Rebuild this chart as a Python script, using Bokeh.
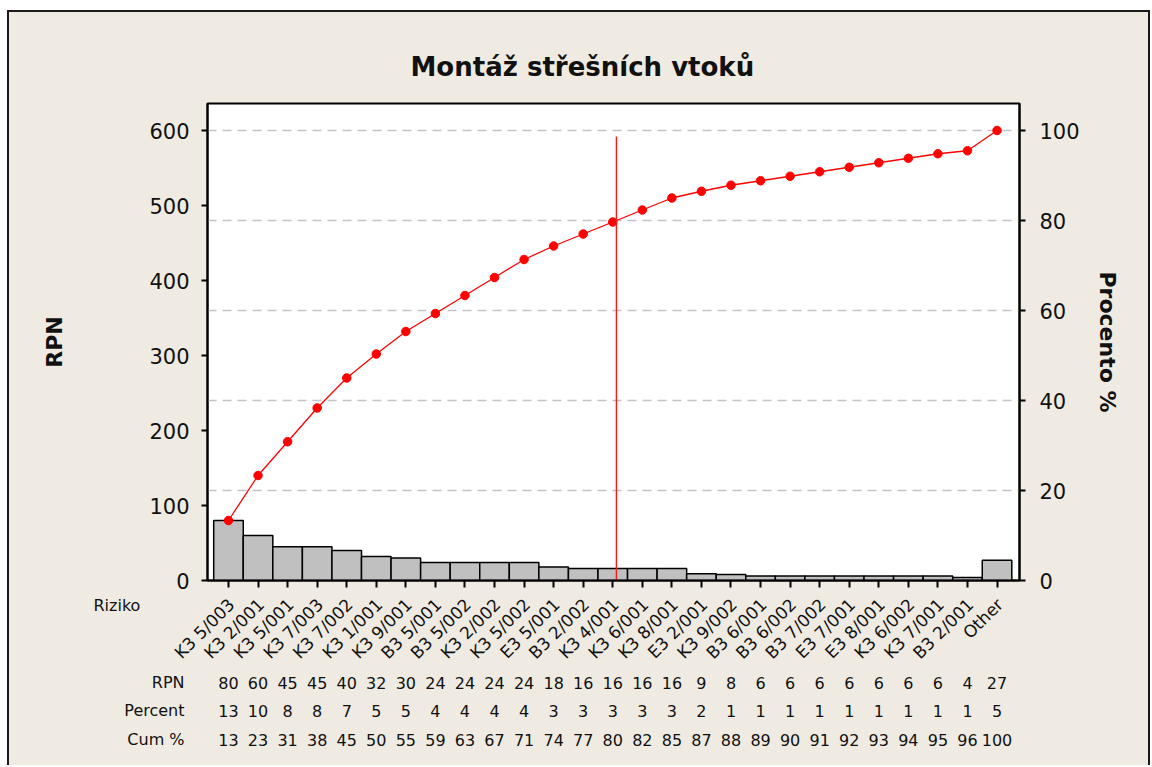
import numpy as np
from math import pi
from bokeh.plotting import figure
from bokeh.layouts import column
from bokeh.models import Range1d, LinearAxis, FixedTicker, Grid
from bokeh.core.properties import value
from bokeh.embed import file_html
from bokeh.resources import INLINE

# ---------------- data ----------------
categories = ["K3 5/003", "K3 2/001", "K3 5/001", "K3 7/003", "K3 7/002", "K3 1/001",
              "K3 9/001", "B3 5/001", "B3 5/002", "K3 2/002", "K3 5/002", "E3 5/001",
              "B3 2/002", "K3 4/001", "K3 6/001", "K3 8/001", "E3 2/001", "K3 9/002",
              "B3 6/001", "B3 6/002", "B3 7/002", "E3 7/001", "E3 8/001", "K3 6/002",
              "K3 7/001", "B3 2/001", "Other"]
rpn = [80, 60, 45, 45, 40, 32, 30, 24, 24, 24, 24, 18, 16, 16, 16, 16, 9, 8,
       6, 6, 6, 6, 6, 6, 6, 4, 27]
percent = [13, 10, 8, 8, 7, 5, 5, 4, 4, 4, 4, 3, 3, 3, 3, 3, 2, 1, 1, 1, 1, 1, 1, 1, 1, 1, 5]
cum_percent = [13, 23, 31, 38, 45, 50, 55, 59, 63, 67, 71, 74, 77, 80, 82, 85, 87, 88,
               89, 90, 91, 92, 93, 94, 95, 96, 100]
left_ticks = [0, 100, 200, 300, 400, 500, 600]
right_ticks = [0, 20, 40, 60, 80, 100]
row_names = ["RPN", "Percent", "Cum %"]
cutoff_pct = 80
cutoff_line_top = 592

title_text = "Montáž střešních vtoků"
x_title = "Riziko"
y_title = "RPN"
y2_title = "Procento %"

# ---------------- styling / layout ----------------
FONT = "DejaVu Sans"
BEIGE = "#EFEBE2"
TXT = "#111111"
W = 1139
FL, FR, FT, FB = 198, 1010, 91, 568     # frame edges inside the top figure
H1 = 580
H2 = 173
X0, X1 = -0.71, 26.76
Y_MAX = 636

idx = np.arange(len(categories))
cum = np.cumsum(rpn)
total = float(cum[-1])
x_cut = float(np.interp(cutoff_pct / 100.0 * total, cum, idx))

# ---------------- main chart ----------------
p = figure(width=W, height=H1,
           x_range=Range1d(X0, X1), y_range=Range1d(0, Y_MAX),
           output_backend="svg", toolbar_location=None,
           min_border_left=FL, min_border_right=W - FR,
           min_border_top=FT, min_border_bottom=H1 - FB,
           background_fill_color="white", border_fill_color=BEIGE)
p.outline_line_color = "black"
p.outline_line_width = 2
p.xgrid.visible = False
p.ygrid.visible = False

p.title.text = title_text
p.title.align = "left"
p.title.offset = 203
p.title.standoff = 44
p.title.text_font = FONT
p.title.text_font_style = "bold"
p.title.text_font_size = "26px"
p.title.text_color = TXT

p.extra_y_ranges = {"pct": Range1d(0, Y_MAX / total * 100.0)}

ya = p.yaxis[0]
ya.ticker = FixedTicker(ticks=left_ticks)
ya.axis_label = y_title
ya.axis_label_text_font = FONT
ya.axis_label_text_font_style = "bold"
ya.axis_label_text_font_size = "22px"
ya.axis_label_text_color = TXT
ya.axis_label_standoff = 79
ya.major_label_text_font = FONT
ya.major_label_text_font_size = "21px"
ya.major_label_text_color = TXT
ya.major_label_standoff = 12
ya.major_tick_out = 6
ya.major_tick_in = 0
ya.minor_tick_line_color = None
ya.axis_line_width = 2
ya.major_tick_line_width = 2

ra = LinearAxis(y_range_name="pct", ticker=FixedTicker(ticks=right_ticks),
                axis_label=y2_title)
ra.axis_label_text_font = FONT
ra.axis_label_text_font_style = "bold"
ra.axis_label_text_font_size = "22px"
ra.axis_label_text_color = TXT
ra.axis_label_standoff = 12
ra.major_label_text_font = FONT
ra.major_label_text_font_size = "21px"
ra.major_label_text_color = TXT
ra.major_label_standoff = 14
ra.major_tick_out = 6
ra.major_tick_in = 0
ra.minor_tick_line_color = None
ra.axis_line_width = 2
ra.major_tick_line_width = 2
p.add_layout(ra, "right")

xa = p.xaxis[0]
xa.ticker = FixedTicker(ticks=[int(i) for i in idx])
xa.major_label_overrides = {int(i): "" for i in idx}
xa.major_label_standoff = 0
xa.major_tick_out = 7
xa.major_tick_in = 0
xa.minor_tick_line_color = None
xa.axis_line_width = 2
xa.major_tick_line_width = 2

g = Grid(dimension=1, ticker=FixedTicker(ticks=right_ticks[1:]), y_range_name="pct",
         grid_line_color="#C4C4C4", grid_line_dash="9 6", grid_line_width=1.5)
p.add_layout(g)

p.vbar(x=idx, top=rpn, width=1.0, fill_color="#C0C0C0", line_color="black",
       line_width=1.5)
p.line(idx, cum, line_color="red", line_width=1.3)
p.scatter(idx, cum, marker="circle", size=8.5, fill_color="red", line_color="red")
p.segment(x0=[x_cut], y0=[0], x1=[x_cut], y1=[cutoff_line_top],
          line_color="#F02020", line_width=1.5)

# ---------------- lower panel: category labels + table ----------------
scale = (FR - FL) / (X1 - X0)
x2_start = X0 - FL / scale
x2_end = X1 + (W - FR) / scale
t = figure(width=W, height=H2, x_range=Range1d(x2_start, x2_end), y_range=Range1d(0, H2),
           output_backend="svg", toolbar_location=None,
           x_axis_location=None, y_axis_location=None,
           min_border_left=0, min_border_right=0, min_border_top=0, min_border_bottom=0,
           background_fill_color=BEIGE, border_fill_color=BEIGE)
t.outline_line_color = None
t.xgrid.visible = False
t.ygrid.visible = False

for fig in (p, t):
    if "frame_align" in fig.properties():
        fig.frame_align = False

def ypos(offset_from_top):
    return H2 - offset_from_top

common = dict(text_font=value(FONT), text_color=TXT, text_font_size="16px")

t.text(x=[x2_start + 84 / scale], y=[ypos(13)], text=[x_title],
       text_align="left", text_baseline="middle", **common)
t.text(x=idx, y=[ypos(9)] * len(idx), text=categories, angle=pi / 4, x_offset=3,
       text_align="right", text_baseline="middle", text_font=value(FONT),
       text_color=TXT, text_font_size="17px")

rows = [rpn, percent, cum_percent]
row_y = [90, 118, 147]
for name, vals, yy in zip(row_names, rows, row_y):
    t.text(x=[x2_start + 175 / scale], y=[ypos(yy)], text=[name],
           text_align="right", text_baseline="middle", **common)
    t.text(x=idx, y=[ypos(yy)] * len(idx), text=[str(v) for v in vals],
           text_align="center", text_baseline="middle", **common)

layout = column(p, t, spacing=0)
layout.styles = {"border-left": "2px solid #1a1a1a", "border-top": "2px solid #1a1a1a",
                 "border-right": "2px solid #1a1a1a",
                 "margin-left": "7px", "margin-top": "10px", "background-color": BEIGE}

open("out.html", "w").write(file_html(layout, INLINE))
